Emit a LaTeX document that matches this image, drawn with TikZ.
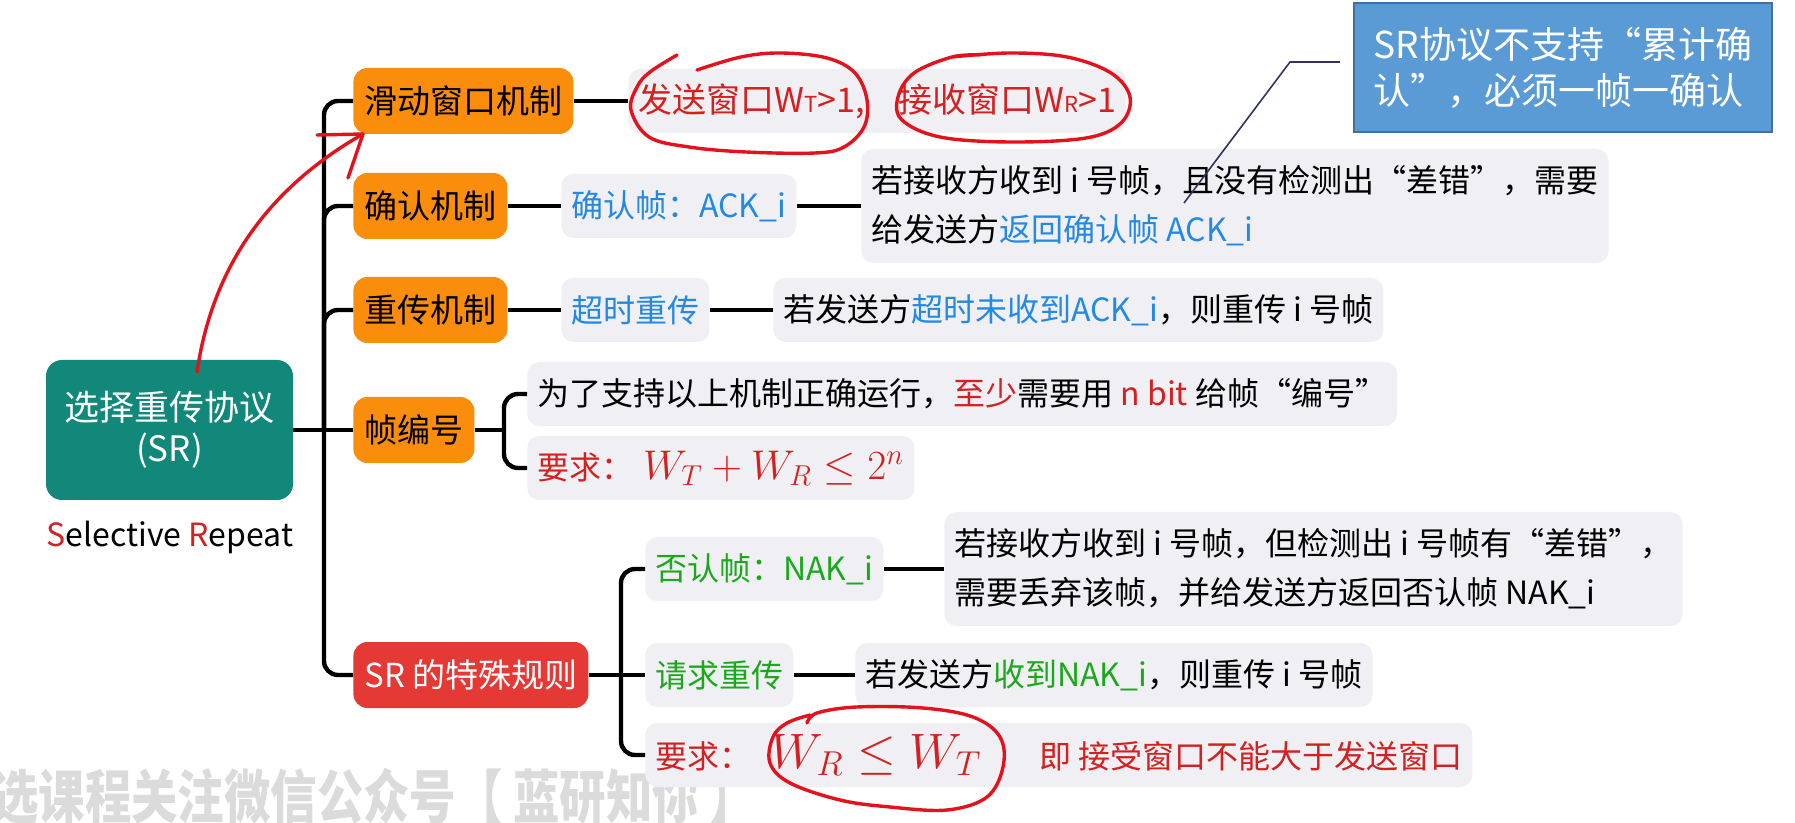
\documentclass[tikz,border=0pt]{standalone}
\usepackage[no-math]{fontspec}
\setmainfont{Noto Sans CJK SC}
\usepackage{xcolor}
\usetikzlibrary{positioning}
\definecolor{RootTeal}{HTML}{12887A}
\definecolor{TopicOrange}{HTML}{FB8D0C}
\definecolor{RuleRed}{HTML}{E53935}
\definecolor{LeafGray}{HTML}{F0EFF3}
\definecolor{TxtBlue}{HTML}{2389E2}
\definecolor{TxtGreen}{HTML}{1CA81C}
\definecolor{TxtRed}{HTML}{D42020}
\definecolor{NoteBlue}{HTML}{5B9BD5}
\definecolor{NoteEdge}{HTML}{41719C}
\definecolor{PenRed}{HTML}{E3121C}
\newcommand\wsub[1]{{\fontsize{11}{10}\selectfont #1}}
\newcommand\condmath[2][22]{{\fontsize{#1}{24}\selectfont$#2$}}
\tikzset{
  >=latex,
  % caselle della mappa
  root/.style={rounded corners=8pt,fill=RootTeal,text=white,align=center,
    minimum width=123.5pt,minimum height=70pt,font=\fontsize{17.5}{20.5}\selectfont},
  topic/.style={rounded corners=7pt,fill=TopicOrange,minimum height=33pt,
    inner xsep=5.5pt,anchor=west,font=\fontsize{16.5}{20}\selectfont},
  topic red/.style={topic,fill=RuleRed,text=white},
  leaf/.style={rounded corners=6pt,fill=LeafGray,minimum height=32pt,inner xsep=5pt,
    anchor=west,align=left,font=\fontsize{16}{24.5}\selectfont},
  notebox/.style={fill=NoteBlue,draw=NoteEdge,line width=0.8pt,text=white,align=left,
    minimum width=209pt,minimum height=64.5pt,font=\fontsize{18.5}{23}\selectfont},
  wmtext/.style={text=black!14,font=\fontsize{29}{30}\bfseries\selectfont},
  % linee
  connect/.style={line width=2.2pt,black,rounded corners=7pt},
  pointer/.style={line width=0.8pt,black!70!blue!60!gray},
  hand/.style={line width=1.7pt,PenRed,line cap=round,line join=round}
}
\begin{document}
\begin{tikzpicture}[x=0.5pt,y=-0.5pt]
  \fill[white] (0,0) rectangle (1795,823);
  \useasboundingbox (0,0) rectangle (1795,823);
  % watermark
  \node[wmtext,anchor=base west,inner sep=0pt] (wm) at (-8,818)
    {\scalebox{0.8}[1]{选课程关注微信公众号【 蓝研知你 】}};
  % root
  \node[root] (sr) at (169.5,430) {选择重传协议\\(SR)};
  \node[font=\fontsize{16}{20}\selectfont] (full) at (170,537)
    {\textcolor{TxtRed}{S}elective \textcolor{TxtRed}{R}epeat};
  % primo livello
  \node[topic] (slide) at (353,101) {滑动窗口机制};
  \node[topic] (ack) at (353,206) {确认机制};
  \node[topic] (retx) at (353,310) {重传机制};
  \node[topic] (seq) at (353,430) {帧编号};
  \node[topic red] (rule) at (353,675) {SR 的特殊规则};
  % secondo livello
  \node[leaf,text=TxtRed,font=\fontsize{17}{24}\selectfont] (win) at (628,101)
    {发送窗口W\wsub{T}>1,\hspace{1em}接收窗口W\wsub{R}>1};
  \node[leaf,text=TxtBlue] (ackf) at (561,206) {确认帧：ACK\_i};
  \node[leaf,minimum height=57pt] (ackd) at (861,206)
    {若接收方收到 i 号帧，且没有检测出“差错”，需要\\给发送方\textcolor{TxtBlue}{返回确认帧 ACK\_i}};
  \node[leaf,text=TxtBlue] (tout) at (561,310) {超时重传};
  \node[leaf] (toutd) at (773,310)
    {若发送方\textcolor{TxtBlue}{超时未收到ACK\_i}，则重传 i 号帧};
  \node[leaf] (nbit) at (527,394)
    {为了支持以上机制正确运行，\textcolor{TxtRed}{至少}需要用 \textcolor{TxtRed}{n bit} 给帧“编号”};
  \node[leaf,text=TxtRed] (cond1) at (527,468)
    {要求：\hspace{0.3em}\condmath{W_T+W_R\le 2^n}};
  \node[leaf,text=TxtGreen] (nak) at (645,569) {否认帧：NAK\_i};
  \node[leaf,minimum height=57pt] (nakd) at (944,569)
    {若接收方收到 i 号帧，但检测出 i 号帧有“差错”，\\需要丢弃该帧，并给发送方返回否认帧 NAK\_i};
  \node[leaf,text=TxtGreen] (req) at (645,675) {请求重传};
  \node[leaf] (reqd) at (855,675) {若发送方\textcolor{TxtGreen}{收到NAK\_i}，则重传 i 号帧};
  \node[leaf,text=TxtRed] (cond2) at (645,755)
    {要求：\hspace{0.6em}\condmath[24]{W_R\le W_T}\hspace{1.8em}即 接受窗口不能大于发送窗口};
  % nota
  \node[notebox] (note) at (1563,67.5) {SR协议不支持“累计确\\认”，必须一帧一确认};
  % connessioni
  \coordinate (hub) at (324,430);
  \draw[connect] (sr.east) -- (seq.west);
  \foreach \n in {slide,ack,retx,rule} \draw[connect] (hub) |- (\n.west);
  \draw[connect] (slide.east) -- (win.west);
  \draw[connect] (ack.east) -- (ackf.west);
  \draw[connect] (ackf.east) -- (ackd.west);
  \draw[connect] (retx.east) -- (tout.west);
  \draw[connect] (tout.east) -- (toutd.west);
  \coordinate (hubseq) at (504,430);
  \draw[connect] (seq.east) -- (hubseq);
  \foreach \n in {nbit,cond1} \draw[connect] (hubseq) |- (\n.west);
  \coordinate (hubrule) at (621,675);
  \draw[connect] (rule.east) -- (req.west);
  \foreach \n in {nak,cond2} \draw[connect] (hubrule) |- (\n.west);
  \draw[connect] (nak.east) -- (nakd.west);
  \draw[connect] (req.east) -- (reqd.west);
  % linea della nota
  \coordinate (p1) at (1340,62);
  \coordinate (p2) at (1290,62);
  \coordinate (p3) at (1184,203);
  \draw[pointer] (p1) -- (p2) -- (p3);
  % segni a mano
  \draw[hand] (197,372) .. controls (212,270) and (265,190) .. (363,134);
  \draw[hand] (317,135) -- (363,134) -- (348,178);
  \draw[hand] plot[smooth,tension=0.6] coordinates {(677,55) (650,72) (637,87) (631,110)
    (649,137) (689,147) (746,152) (815,153) (844,147) (864,127) (867,100) (855,73)
    (827,58) (781,53) (741,57) (697,70)};
  \draw[hand] plot[smooth,tension=0.6] coordinates {(952,57) (1010,53) (1067,57)
    (1111,73) (1130,97) (1121,123) (1086,138) (1010,142) (940,137) (902,120) (898,97)
    (914,73) (952,57) (980,55)};
  \draw[hand] plot[smooth,tension=0.6] coordinates {(807,723) (817,713) (857,707)
    (923,708) (973,717) (1000,737) (1003,767) (987,797) (947,810) (890,807) (840,800)
    (790,783) (770,763) (773,737) (787,723) (810,715)};
\end{tikzpicture}
\end{document}
